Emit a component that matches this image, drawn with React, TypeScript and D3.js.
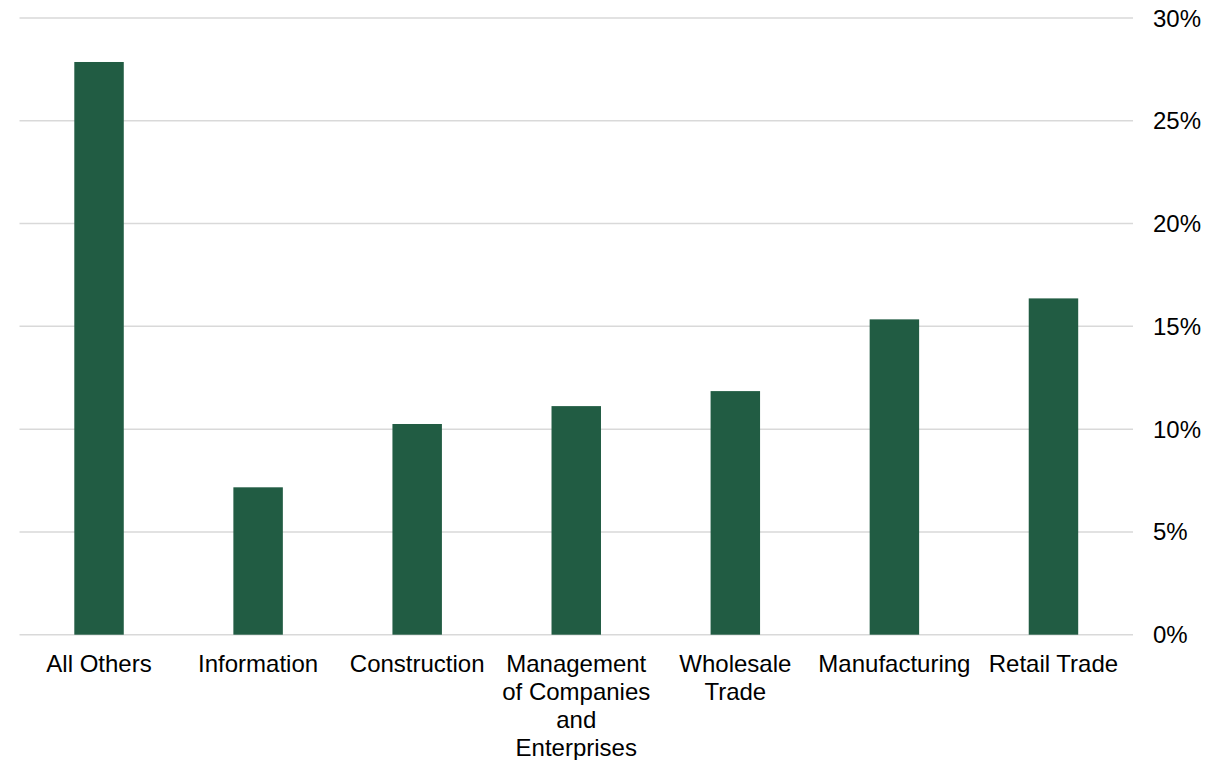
import React, { useEffect, useRef } from "react";
import * as d3 from "d3";

const categories = [
  "All Others",
  "Information",
  "Construction",
  "Management of Companies and Enterprises",
  "Wholesale Trade",
  "Manufacturing",
  "Retail Trade",
];
const values = [27.86, 7.17, 10.25, 11.12, 11.85, 15.34, 16.36];
const yTicks = [0, 5, 10, 15, 20, 25, 30];

const W = 1222;
const H = 760;
const left = 19.5;
const right = 1133;
const top = 18;
const bottom = 634.7;
const FONT = "'Liberation Sans', Arial, sans-serif";

export default function App() {
  const ref = useRef<SVGSVGElement>(null);

  useEffect(() => {
    const svg = d3.select(ref.current);
    svg.selectAll("*").remove();

    const x = d3
      .scaleBand<string>()
      .domain(categories)
      .range([left, right])
      .paddingInner(0.689)
      .paddingOuter(0.689 / 2);
    const y = d3.scaleLinear().domain([0, 30]).range([bottom, top]);

    // gridlines
    svg
      .append("g")
      .selectAll("line")
      .data(yTicks)
      .join("line")
      .attr("x1", left)
      .attr("x2", right)
      .attr("y1", (d) => y(d))
      .attr("y2", (d) => y(d))
      .attr("stroke", "#d9d9d9")
      .attr("stroke-width", 1.5);

    // y tick labels
    svg
      .append("g")
      .selectAll("text")
      .data(yTicks)
      .join("text")
      .attr("x", 1153)
      .attr("y", (d) => y(d) + 8.5)
      .attr("font-family", FONT)
      .attr("font-size", 24)
      .attr("fill", "#000")
      .text((d) => `${d}%`);

    // bars
    svg
      .append("g")
      .selectAll("rect")
      .data(values)
      .join("rect")
      .attr("x", (_, i) => x(categories[i])!)
      .attr("width", x.bandwidth())
      .attr("y", (d) => y(d))
      .attr("height", (d) => y(0) - y(d))
      .attr("fill", "#215c43");

    // x labels with wrapping
    const wrapWidth = x.step();
    const lh = 28;
    categories.forEach((c) => {
      const cx = x(c)! + x.bandwidth() / 2;
      const t = svg
        .append("text")
        .attr("x", cx)
        .attr("y", 672)
        .attr("text-anchor", "middle")
        .attr("font-family", FONT)
        .attr("font-size", 24)
        .attr("fill", "#000");
      const words = c.split(" ");
      let line: string[] = [];
      let lineNo = 0;
      let tspan = t.append("tspan").attr("x", cx).attr("y", 672);
      words.forEach((w) => {
        line.push(w);
        tspan.text(line.join(" "));
        if ((tspan.node() as SVGTSpanElement).getComputedTextLength() > wrapWidth && line.length > 1) {
          line.pop();
          tspan.text(line.join(" "));
          line = [w];
          lineNo++;
          tspan = t
            .append("tspan")
            .attr("x", cx)
            .attr("y", 672 + lineNo * lh)
            .text(w);
        }
      });
    });
  }, []);

  return (
    <svg
      ref={ref}
      width={W}
      height={H}
      style={{ position: "absolute", left: 0, top: 0, background: "#fff" }}
    />
  );
}
